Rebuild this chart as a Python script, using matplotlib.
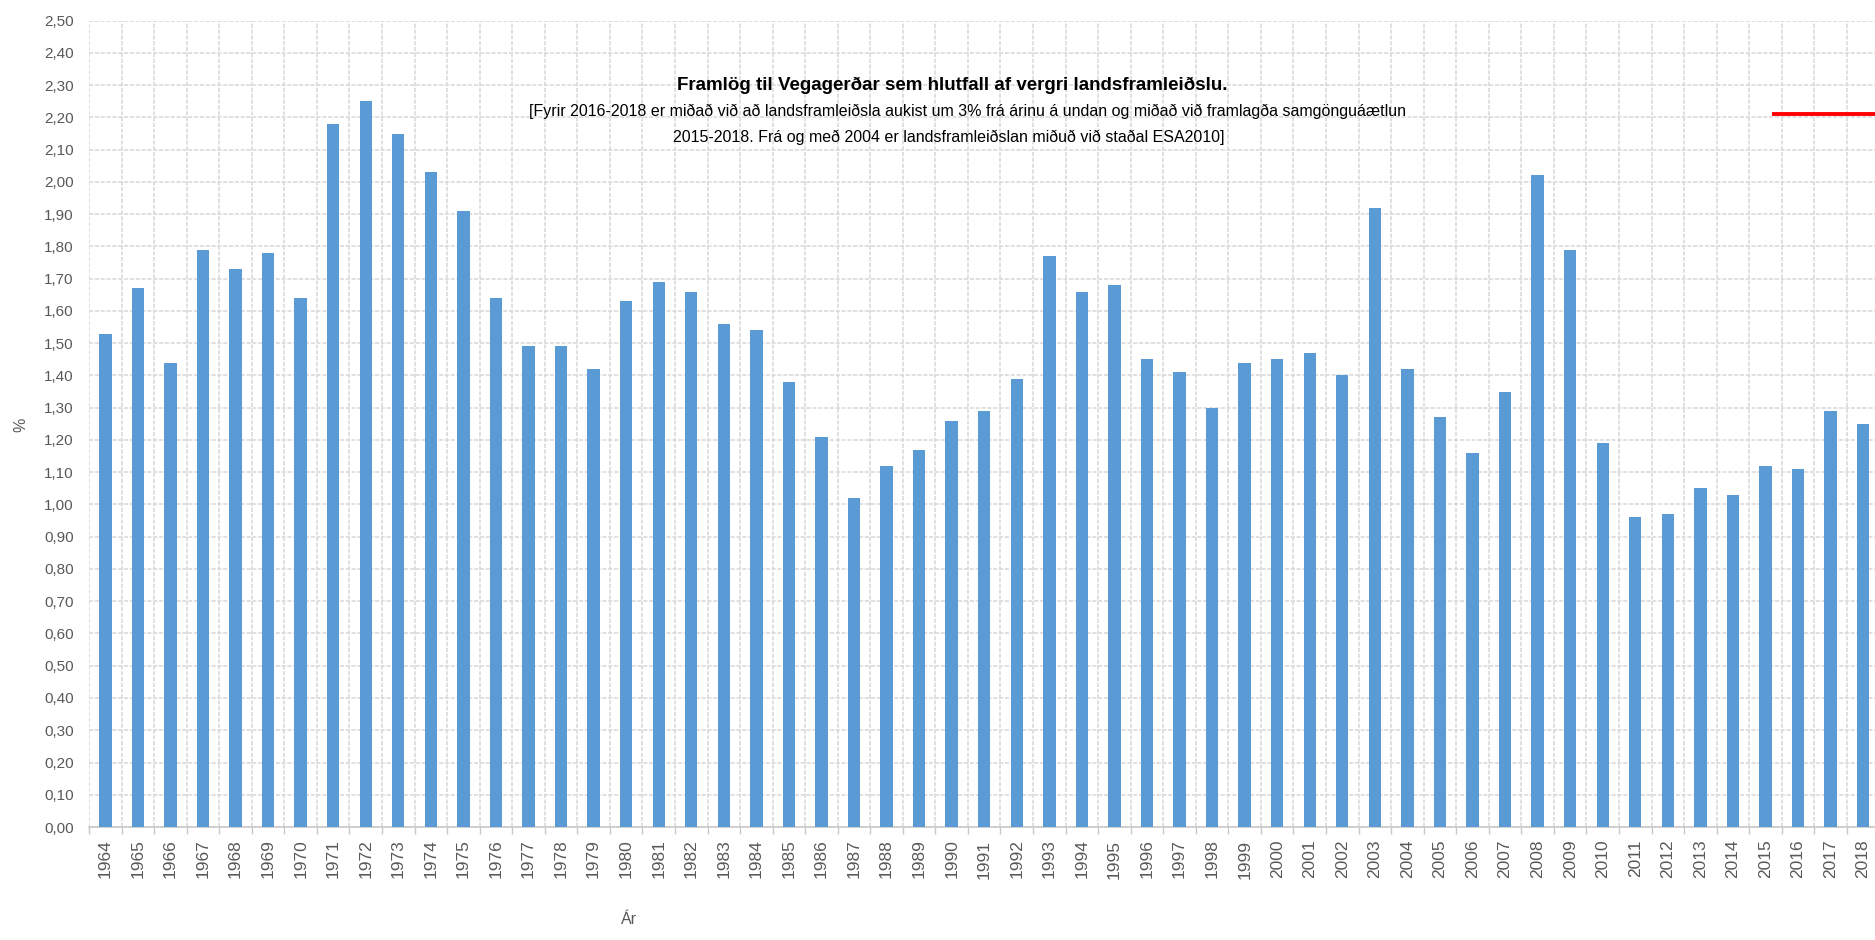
import numpy as np
from matplotlib import pyplot as plt
from matplotlib.ticker import FixedLocator, FuncFormatter

# Data
years = list(range(1964, 2019))
share = [1.53, 1.67, 1.44, 1.79, 1.73, 1.78, 1.64, 2.18, 2.25, 2.15,
         2.03, 1.91, 1.64, 1.49, 1.49, 1.42, 1.63, 1.69, 1.66, 1.56,
         1.54, 1.38, 1.21, 1.02, 1.12, 1.17, 1.26, 1.29, 1.39, 1.77,
         1.66, 1.68, 1.45, 1.41, 1.30, 1.44, 1.45, 1.47, 1.40, 1.92,
         1.42, 1.27, 1.16, 1.35, 2.02, 1.79, 1.19, 0.96, 0.97, 1.05,
         1.03, 1.12, 1.11, 1.29, 1.25]
target_level = 2.21

title = 'Framlög til Vegagerðar sem hlutfall af vergri landsframleiðslu.'
sub1 = '[Fyrir 2016-2018 er miðað við að landsframleiðsla aukist um 3% frá árinu á undan og miðað við framlagða samgönguáætlun'
sub2 = '2015-2018. Frá og með 2004 er landsframleiðslan miðuð við staðal ESA2010]'

plain = ['Liberation Sans', 'DejaVu Sans']
grey = '#595959'
grid_col = '#dadada'

fig = plt.figure(figsize=(18.75, 9.4), dpi=100)
# plot area runs past the right edge of the picture, like the reference crop
ax = fig.add_axes([0.0475, 0.1202, 0.9722, 0.8578])

x = np.arange(len(years))
ax.bar(x, share, width=0.38, color='#5b9bd5', zorder=3)

# red line to the right (only its start is visible)
ax.plot([51.2, 56], [target_level, target_level], color='#ff0000', lw=2.8,
        solid_capstyle='butt', zorder=4)

ax.set_xlim(-0.5, 55.5)
ax.set_ylim(0, 2.5)

ax.set_yticks(np.arange(0, 2.501, 0.1))
ax.yaxis.set_major_formatter(FuncFormatter(lambda v, p: f'{v:.2f}'.replace('.', ',')))
ax.set_xticks(x)
ax.set_xticklabels([str(y) for y in years], rotation=90)
ax.xaxis.set_minor_locator(FixedLocator(np.arange(-0.5, 56, 1)))

ax.grid(axis='y', which='major', color=grid_col, linestyle=(0, (2.5, 1)), lw=1.2, zorder=0)
ax.grid(axis='x', which='minor', color=grid_col, linestyle=(0, (2.5, 1)), lw=1.2, zorder=0)
ax.tick_params(axis='x', which='major', length=0, pad=9, labelsize=12.5, labelcolor=grey)
ax.tick_params(axis='x', which='minor', length=5, color='#c8c8c8', width=1)
ax.tick_params(axis='y', length=0, pad=11, labelsize=11, labelcolor=grey)
for lab in ax.get_xticklabels() + ax.get_yticklabels():
    lab.set_family(plain)

for s in ['top', 'right', 'left']:
    ax.spines[s].set_visible(False)
ax.spines['bottom'].set_color('#c8c8c8')
ax.spines['bottom'].set_linewidth(1.2)

fig.text(0.508, 0.909, title, ha='center', va='center', fontsize=13.5,
         fontweight='bold', family=plain, color='#000000')
fig.text(0.516, 0.8815, sub1, ha='center', va='center', fontsize=11.5,
         family=plain, color='#000000')
fig.text(0.506, 0.854, sub2, ha='center', va='center', fontsize=11.5,
         family=plain, color='#000000')

fig.text(0.3355, 0.014, 'Ár', ha='center', va='bottom', fontsize=11.5,
         family=plain, color=grey)
fig.text(0.011, 0.548, '%', ha='center', va='center', rotation=90,
         fontsize=11.5, family=plain, color=grey)

fig.savefig('out.png', dpi=100, facecolor='white')
